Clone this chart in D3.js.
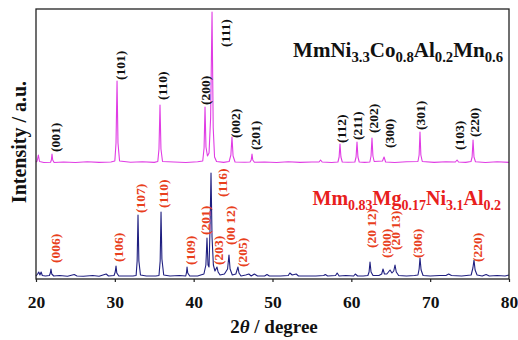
<html>
<meta charset="utf-8" />
<head>
<title>XRD patterns</title>
<style>
body { margin: 0; background: #fff; }
svg { display: block; }
svg text { font-family: "Liberation Serif", "Times New Roman", serif; font-weight: bold; }
</style>
<script src="https://d3js.org/d3.v7.min.js" charset="utf-8"></script>
</head>
<body>
<svg class="chart"></svg>
<script>
var chartWidth = 518;
var chartHeight = 340;

/*******
* Data *
*******/
// [2theta, intensity above baseline]
var topPattern = [
  [20.0,1],[20.15,2],[20.3,8],[20.45,1.5],[21.0,0.5],
  [21.85,0.8],[21.95,3],[22.03,9],[22.12,3],[22.3,0.5],
  [23.5,1],[25,0.5],[26.5,1.2],[28,0.6],[29.5,1],
  [30.0,2],[30.15,20],[30.28,82],[30.4,20],[30.6,2],
  [32,0.8],[33.5,1.2],[35,0.6],
  [35.45,1.5],[35.6,14],[35.73,58],[35.85,14],[36.05,1.5],
  [37.5,1],[39,0.5],[40.5,1.2],
  [41.15,2],[41.32,15],[41.44,56],[41.56,16],[41.75,7],[41.95,10],[42.15,45],[42.33,151],[42.48,35],[42.65,6],[42.9,1.5],
  [43.8,0.6],[44.5,1.5],[44.72,8],[44.86,26],[45.0,7],[45.25,1],
  [46.5,0.8],[47.15,1],[47.3,3],[47.4,9],[47.5,3],[47.7,0.8],
  [49,1],[50.5,0.5],[52,1.2],[53.5,0.6],[55,1],
  [55.9,1],[56.1,3],[56.3,1],[57.5,0.5],
  [58.3,1],[58.45,6],[58.56,19],[58.68,6],[58.85,1],
  [59.6,0.8],
  [60.45,1],[60.6,6],[60.72,21],[60.84,6],[61.0,1],
  [61.7,0.6],
  [62.35,1],[62.5,7],[62.62,25],[62.74,7],[62.9,1.5],
  [63.95,2],[64.15,6],[64.35,1],
  [65.5,0.5],[67,1.2],
  [68.45,1.5],[68.6,8],[68.71,31],[68.82,8],[69.0,1.5],
  [70.5,0.6],[72,1.2],
  [73.2,1],[73.41,3],[73.6,1],
  [74.5,0.6],
  [75.18,1.5],[75.32,6],[75.44,23],[75.56,6],[75.75,1.2],
  [77,0.5],[78.5,1.2],[80,0.6]
];

var bottomPattern = [
  [20.0,1],[20.2,3],[20.35,5],[20.5,2],[20.65,5],[20.8,1.5],[21.2,1],
  [21.7,1.5],[21.82,4],[21.9,8],[22.0,3],[22.25,1],
  [23,1.5],[24,0.8],[24.85,2.5],[25.2,1],[26,0.8],[27.2,1.5],[28,0.8],[28.9,3],[29.2,1],
  [29.9,1.5],[30.05,5],[30.15,11],[30.25,4],[30.5,1],
  [31.5,1],[32.3,1],
  [32.7,1.5],[32.83,16],[32.94,62],[33.05,16],[33.25,2],
  [34,1],[35.2,1],
  [35.6,1.5],[35.75,16],[35.86,65],[35.97,18],[36.2,2],
  [37,1],[38.2,1.5],
  [39.0,1],[39.1,5],[39.16,10],[39.25,4],[39.5,1],
  [40.5,1],[41.3,3],[41.55,12],[41.69,39],[41.82,12],[41.95,10],[42.08,50],[42.2,104],[42.33,40],[42.5,12],[42.7,6],[42.96,10],[43.1,5],[43.35,2],
  [43.9,3],[44.3,8],[44.48,22],[44.62,8],[44.9,2],
  [45.35,3],[45.62,10],[45.75,4],[46.0,1],
  [46.6,2],[47.0,3],[47.3,1],[47.7,3],[48.1,1],
  [49.0,1],[49.3,2.5],[49.6,1],[51,1],
  [52.0,1.5],[52.2,4],[52.5,2],[53.0,3],[53.3,1],[54.5,1],[55.5,1],
  [56.5,1.5],[56.7,2.5],[57.0,1],[58.0,1.5],[58.2,4],[58.45,1],[59.3,1.5],[60.3,1],[60.5,3],[60.8,1],[61.5,1],
  [62.1,1.5],[62.25,5],[62.37,15],[62.5,5],[62.75,1.5],
  [63.5,1.5],[63.85,3],[64.02,8],[64.2,3],[64.5,3],[64.91,7],[65.15,4],[65.38,6],[65.54,12],[65.7,5],[66.0,1.5],
  [67.0,1],[68.0,1.5],
  [68.45,2],[68.6,8],[68.71,19],[68.85,7],[69.1,1.5],
  [70.0,1],[71.2,1.5],[72.0,1.5],[72.35,3],[72.7,1.5],[74.0,1],
  [75.2,2],[75.42,9],[75.56,17],[75.7,7],[75.95,2],
  [76.6,1],[77.1,2.5],[77.5,1],[78.5,1.5],[79.5,1],[80,2]
];

var topOffset = 116;
var bottomOffset = 2;

// peak labels: [text, 2theta, intensity where label starts]
var topLabels = [
  ["(001)",22.41,127],["(101)",30.66,199],["(110)",35.98,179],["(200)",41.44,174],
  ["(111)",43.98,232],["(002)",45.24,141],["(201)",47.78,129],["(112)",58.69,136],
  ["(211)",60.72,139],["(202)",62.75,146],["(300)",64.79,131],["(301)",68.71,149],
  ["(103)",73.66,129],["(220)",75.56,142]
];
var bottomLabels = [
  ["(006)",22.41,16],["(106)",30.40,17],["(107)",33.19,66],["(110)",36.11,71],
  ["(109)",39.54,14],["(201)",41.44,44],["(116)",43.60,82],["(203)",43.09,14],
  ["(00 12)",44.61,34],["(205)",46.13,12],["(20 12)",62.50,31],["(300)",64.40,21],
  ["(20 13)",65.54,29],["(306)",68.33,21],["(220)",75.94,17]
];

var xTicks = [20, 30, 40, 50, 60, 70, 80];

// formula pieces: [text, isSubscript]
var topFormula = [["MmNi",0],["3.3",1],["Co",0],["0.8",1],["Al",0],["0.2",1],["Mn",0],["0.6",1]];
var bottomFormula = [["Mm",0],["0.83",1],["Mg",0],["0.17",1],["Ni",0],["3.1",1],["Al",0],["0.2",1]];

/*************
* Make Chart *
*************/
var margin = {top: 9, right: 9, bottom: 61, left: 36};

var svg = d3.select(".chart")
  .attr("width", chartWidth)
  .attr("height", chartHeight);

var x = d3.scaleLinear()
  .domain([20, 80])
  .range([margin.left, chartWidth - margin.right]);

var y = d3.scaleLinear()
  .domain([0, 270])
  .range([chartHeight - margin.bottom, margin.top]);

// patterns
function drawPattern(data, offset, colour) {
  var line = d3.line()
    .x(function(d) { return x(d[0]); })
    .y(function(d) { return y(d[1] + offset); });
  svg.append("path")
    .datum(data)
    .attr("fill", "none")
    .attr("stroke", colour)
    .attr("stroke-width", 1.1)
    .attr("stroke-linejoin", "round")
    .attr("d", line);
}
drawPattern(topPattern, topOffset, "#e03ce4");
drawPattern(bottomPattern, bottomOffset, "#1f1f80");

// frame
svg.append("rect")
  .attr("x", x(20)).attr("y", y(270))
  .attr("width", x(80) - x(20))
  .attr("height", y(0) - y(270))
  .attr("fill", "none")
  .attr("stroke", "#222")
  .attr("stroke-width", 1.3);

// x axis
var xAxis = d3.axisBottom(x)
  .tickValues(xTicks)
  .tickSize(3)
  .tickPadding(14)
  .tickSizeOuter(0);

var gx = svg.append("g")
  .attr("transform", "translate(0," + y(0) + ")")
  .call(xAxis);
gx.select(".domain").remove();
gx.selectAll(".tick line").attr("stroke", "#222").attr("stroke-width", 1.2);
gx.selectAll(".tick text")
  .attr("font-family", "Liberation Serif, serif")
  .attr("font-weight", "bold")
  .attr("font-size", 17.5)
  .attr("fill", "#111");

// peak labels
function drawLabels(labels, offset, colour) {
  svg.selectAll(null)
    .data(labels)
    .enter().append("text")
    .attr("transform", function(d) {
      return "translate(" + x(d[1]) + "," + y(d[2] + offset) + ") rotate(-90)";
    })
    .attr("dy", "0.35em")
    .attr("font-size", 13.5)
    .attr("fill", colour)
    .text(function(d) { return d[0]; });
}
drawLabels(topLabels, 0, "#111");
drawLabels(bottomLabels, 0, "#e8401c");

// formulas
function drawFormula(parts, xEnd, yBase, size, colour) {
  var t = svg.append("text")
    .attr("x", xEnd)
    .attr("y", yBase)
    .attr("text-anchor", "end")
    .attr("font-size", size)
    .attr("fill", colour);
  var shift = 0;
  parts.forEach(function(p) {
    var dy = p[1] ? 5 - shift : -shift;
    shift = p[1] ? 5 : 0;
    t.append("tspan")
      .attr("dy", dy)
      .attr("font-size", p[1] ? size * 0.7 : size)
      .text(p[0]);
  });
}
drawFormula(topFormula, 503, 57, 21, "#111");
drawFormula(bottomFormula, 501, 205, 20, "#e8201c");

// axis titles
var xt = svg.append("text")
  .attr("x", 274)
  .attr("y", 333)
  .attr("text-anchor", "middle")
  .attr("font-size", 19)
  .attr("fill", "#111");
xt.append("tspan").text("2");
xt.append("tspan").attr("font-style", "italic").text("\u03b8");
xt.append("tspan").text(" / degree");

svg.append("text")
  .attr("transform", "translate(26,142) rotate(-90)")
  .attr("text-anchor", "middle")
  .attr("font-size", 20)
  .attr("fill", "#111")
  .text("Intensity / a.u.");
</script>
</body>
</html>
